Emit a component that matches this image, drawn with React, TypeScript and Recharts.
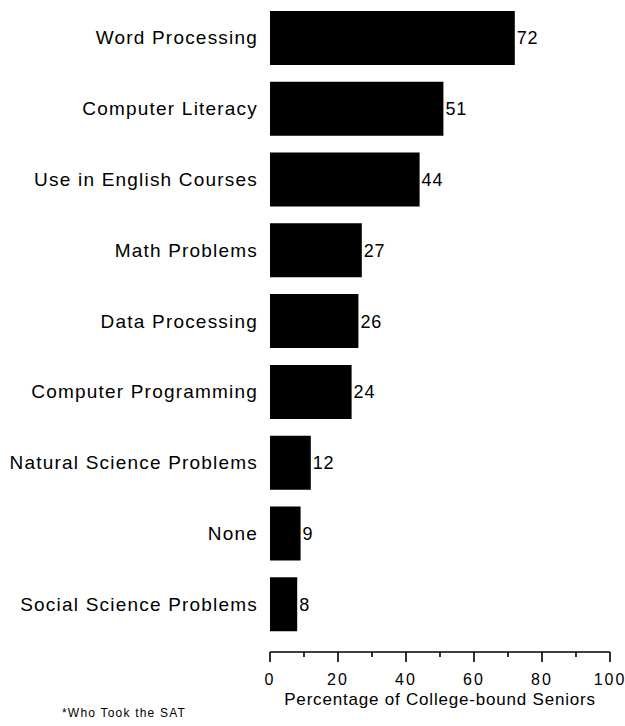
import React from "react";
import { BarChart, Bar, XAxis, YAxis, LabelList } from "recharts";

const categories = [
  "Word Processing",
  "Computer Literacy",
  "Use in English Courses",
  "Math Problems",
  "Data Processing",
  "Computer Programming",
  "Natural Science Problems",
  "None",
  "Social Science Problems",
];
const percents = [72, 51, 44, 27, 26, 24, 12, 9, 8];
const xTicks = [0, 10, 20, 30, 40, 50, 60, 70, 80, 90, 100];

const data = categories.map((name, i) => ({ name, value: percents[i] }));

const FONT = "'Liberation Sans', Arial, Helvetica, sans-serif";

const XTick = (props: any) => {
  const { x, y, payload } = props;
  const v = payload.value as number;
  const major = v % 20 === 0;
  return (
    <g>
      <line x1={x} x2={x} y1={y - 8} y2={major ? y + 2 : y - 3} stroke="#000" strokeWidth={1.6} />
      {major && (
        <text
          x={x}
          y={y + 25}
          textAnchor="middle"
          fontSize={16}
          letterSpacing={2}
          fontFamily={FONT}
          fill="#000"
        >
          {v}
        </text>
      )}
    </g>
  );
};

const YTick = (props: any) => {
  const { x, y, payload } = props;
  return (
    <text
      x={x - 4}
      y={y}
      dy={6}
      textAnchor="end"
      fontSize={19}
      letterSpacing={1.2}
      fontFamily={FONT}
      fill="#000"
    >
      {payload.value}
    </text>
  );
};

export default function App() {
  return (
    <div style={{ position: "fixed", left: 0, top: 0, width: 625, height: 726, background: "#fff" }}>
      <BarChart
        width={625}
        height={726}
        layout="vertical"
        data={data}
        margin={{ top: 3, right: 15, left: 0, bottom: 24 }}
        barSize={54}
      >
        <XAxis
          type="number"
          domain={[0, 100]}
          ticks={xTicks}
          tick={<XTick />}
          tickLine={false}
          axisLine={{ stroke: "#000", strokeWidth: 1.6 }}
          height={50}
          interval={0}
          label={{
            value: "Percentage of College-bound Seniors",
            position: "insideBottom",
            offset: -3,
            fontSize: 17,
            letterSpacing: 0.8,
            fontFamily: FONT,
            fill: "#000",
          }}
        />
        <YAxis
          type="category"
          dataKey="name"
          width={270}
          tick={<YTick />}
          tickLine={false}
          axisLine={false}
          padding={{ top: 0, bottom: 12 }}
          interval={0}
        />
        <Bar dataKey="value" fill="#000" isAnimationActive={false}>
          <LabelList
            dataKey="value"
            position="right"
            offset={2}
            fontSize={18}
            letterSpacing={0.8}
            fontFamily={FONT}
            fill="#000"
          />
        </Bar>
      </BarChart>
      <div
        style={{
          position: "absolute",
          left: 62,
          top: 706,
          fontSize: 12,
          letterSpacing: 1.2,
          fontFamily: FONT,
          color: "#000",
        }}
      >
        *Who Took the SAT
      </div>
    </div>
  );
}
